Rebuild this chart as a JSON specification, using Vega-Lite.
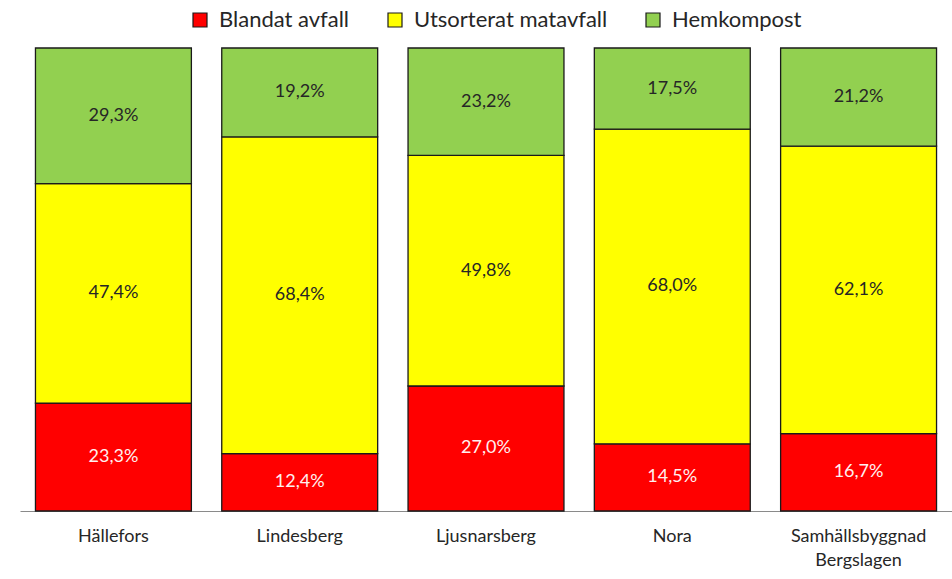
{
  "$schema": "https://vega.github.io/schema/vega-lite/v6.json",
  "autosize": {"type": "none"},
  "width": 932,
  "height": 463,
  "padding": {"left": 20, "top": 48, "right": 0, "bottom": 68},
  "background": "white",
  "config": {"view": {"stroke": null}, "font": "Lato"},
  "data": {"values": [
    {"kommun": "Hällefors", "typ": "Blandat avfall", "value": 23.3},
    {"kommun": "Hällefors", "typ": "Utsorterat matavfall", "value": 47.4},
    {"kommun": "Hällefors", "typ": "Hemkompost", "value": 29.3},
    {"kommun": "Lindesberg", "typ": "Blandat avfall", "value": 12.4},
    {"kommun": "Lindesberg", "typ": "Utsorterat matavfall", "value": 68.4},
    {"kommun": "Lindesberg", "typ": "Hemkompost", "value": 19.2},
    {"kommun": "Ljusnarsberg", "typ": "Blandat avfall", "value": 27.0},
    {"kommun": "Ljusnarsberg", "typ": "Utsorterat matavfall", "value": 49.8},
    {"kommun": "Ljusnarsberg", "typ": "Hemkompost", "value": 23.2},
    {"kommun": "Nora", "typ": "Blandat avfall", "value": 14.5},
    {"kommun": "Nora", "typ": "Utsorterat matavfall", "value": 68.0},
    {"kommun": "Nora", "typ": "Hemkompost", "value": 17.5},
    {"kommun": "Samhällsbyggnad Bergslagen", "typ": "Blandat avfall", "value": 16.7},
    {"kommun": "Samhällsbyggnad Bergslagen", "typ": "Utsorterat matavfall", "value": 62.1},
    {"kommun": "Samhällsbyggnad Bergslagen", "typ": "Hemkompost", "value": 21.2}
  ]},
  "transform": [
    {"calculate": "indexof(['Blandat avfall','Utsorterat matavfall','Hemkompost'], datum.typ)", "as": "ord"},
    {"stack": "value", "groupby": ["kommun"], "sort": [{"field": "ord", "order": "ascending"}], "as": ["y0", "y1"]},
    {"calculate": "(datum.y0 + datum.y1) / 2", "as": "ymid"},
    {"calculate": "replace(format(datum.value, '.1f'), '.', ',') + '%'", "as": "label"}
  ],
  "encoding": {
    "x": {
      "field": "kommun", "type": "nominal", "sort": null, "title": null,
      "scale": {"paddingInner": 0.163, "paddingOuter": 0.083},
      "axis": {
        "labelAngle": 0, "ticks": false, "tickSize": 0, "labelPadding": 16,
        "domainColor": "#8a8a8a", "domainWidth": 1.2,
        "labelFont": "Lato", "labelFontSize": 18, "labelColor": "#262626",
        "labelLineHeight": 24, "labelLimit": 0, "labelExpr": "split(datum.label, ' ')"
      }
    }
  },
  "layer": [
    {
      "mark": {"type": "bar", "stroke": "#1a1a1a", "strokeWidth": 1.3},
      "encoding": {
        "y": {"field": "y0", "type": "quantitative", "scale": {"domain": [0, 100]}, "axis": null},
        "y2": {"field": "y1"},
        "color": {
          "field": "typ", "type": "nominal",
          "scale": {"domain": ["Blandat avfall", "Utsorterat matavfall", "Hemkompost"], "range": ["#FF0000", "#FFFF00", "#92D050"]},
          "legend": {
            "title": null, "orient": "none", "direction": "horizontal",
            "legendX": 169, "legendY": -39,
            "symbolType": "square", "symbolSize": 196, "symbolStrokeColor": "#1a1a1a", "symbolStrokeWidth": 1.2,
            "labelFont": "Lato", "labelFontSize": 22, "labelColor": "#262626", "labelOffset": 8,
            "labelLimit": 0, "columnPadding": 34
          }
        }
      }
    },
    {
      "mark": {"type": "text", "font": "Lato", "fontSize": 18},
      "encoding": {
        "y": {"field": "ymid", "type": "quantitative", "scale": {"domain": [0, 100]}},
        "text": {"field": "label"},
        "color": {
          "condition": {"test": "datum.typ == 'Blandat avfall'", "value": "#FFF0F0"},
          "value": "#262626"
        }
      }
    }
  ]
}
